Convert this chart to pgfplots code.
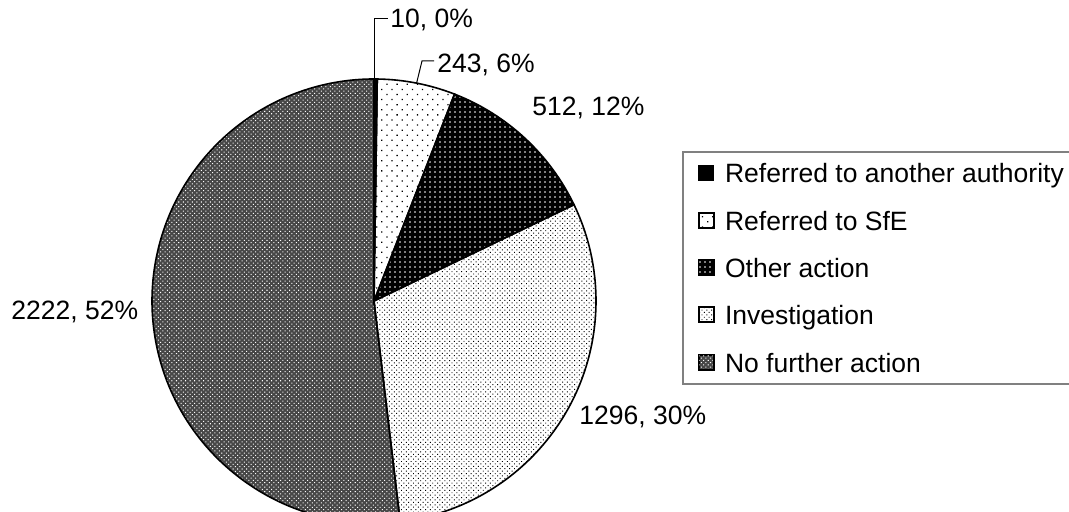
\documentclass[border=0pt]{standalone}
\usepackage{fontspec}
\setmainfont{Liberation Sans}
\usepackage{pgfplots}
\usepackage{pgfplotstable}
\pgfplotsset{compat=1.18}
\usetikzlibrary{patterns.meta}

\pgfplotstableread{
cat value
RA 10
SfE 243
Other 512
Inv 1296
NFA 2222
}\piedata

\tikzset{
  pRA/.style={fill=black},
  pSfE/.style={preaction={fill=white}, pattern={Dots[distance=3.6pt, radius=0.45pt, angle=45]}, pattern color=black},
  pOther/.style={preaction={fill=black}, pattern={Dots[distance=2.5pt, radius=0.42pt]}, pattern color=white},
  pInv/.style={preaction={fill=white}, pattern={Dots[distance=1.7pt, radius=0.34pt, angle=45]}, pattern color=black},
  pNFA/.style={preaction={fill=black!72}, pattern={Dots[distance=1.6pt, radius=0.36pt, angle=45]}, pattern color=white},
  lbl/.style={anchor=base west, inner sep=0pt, font=\fontsize{13.25}{16}\selectfont},
}
\newcommand\slice[3]{\path[#3] (axis cs:374,211) -- ++(#1:111pt) arc[start angle=#1, end angle=#2, radius=111pt] -- cycle;}

\begin{document}
\begin{tikzpicture}
\pgfplotstablegetelem{0}{value}\of\piedata \let\vA\pgfplotsretval
\pgfplotstablegetelem{1}{value}\of\piedata \let\vB\pgfplotsretval
\pgfplotstablegetelem{2}{value}\of\piedata \let\vC\pgfplotsretval
\pgfplotstablegetelem{3}{value}\of\piedata \let\vD\pgfplotsretval
\pgfplotstablegetelem{4}{value}\of\piedata \let\vE\pgfplotsretval
\pgfmathsetmacro\tot{\vA+\vB+\vC+\vD+\vE}
\pgfmathsetmacro\aA{90}
\pgfmathsetmacro\aB{\aA-360*(\vA/\tot)}
\pgfmathsetmacro\aC{\aB-360*(\vB/\tot)}
\pgfmathsetmacro\aD{\aC-360*(\vC/\tot)}
\pgfmathsetmacro\aE{\aD-360*(\vD/\tot)}
\pgfmathsetmacro\aF{-270}
\begin{axis}[
  x=0.5pt, y=0.5pt, xmin=0, xmax=1069, ymin=0, ymax=512,
  hide axis, clip=false,
  legend image code/.code={\path[#1, draw=black, line width=0.5pt] (0pt,-3.5pt) rectangle (7.5pt,4pt);},
  legend cell align=left,
  legend style={at={(0.638,0.248)}, anchor=south west, draw=black!50, line width=1pt, fill=white,
    inner xsep=7.5pt, inner ysep=6pt, row sep=14.15pt, column sep=5.5pt,
    font=\fontsize{13.25}{16}\selectfont,
    nodes={inner sep=0pt, text height=9.5pt, text depth=0pt}},
]
\coordinate (bbA) at (axis cs:0,0);
\coordinate (bbB) at (axis cs:1069,512);
\slice{\aA}{\aB}{pRA}
\slice{\aB}{\aC}{pSfE}
\slice{\aC}{\aD}{pOther}
\slice{\aD}{\aE}{pInv}
\slice{\aE}{\aF}{pNFA}
\slice{\aA}{\aB}{draw=black, line width=0.8pt}
\slice{\aB}{\aC}{draw=black, line width=0.8pt}
\slice{\aC}{\aD}{draw=black, line width=0.8pt}
\slice{\aD}{\aE}{draw=black, line width=0.8pt}
\slice{\aE}{\aF}{draw=black, line width=0.8pt}
% leader lines
\draw[line width=0.5pt] (axis cs:374,433) -- (axis cs:374,493) -- (axis cs:388,493);
\draw[line width=0.5pt] (axis cs:416.6,428.9) -- (axis cs:422,451) -- (axis cs:434,451);
% labels
\node[lbl] at (axis cs:390,484) {10, 0\%};
\node[lbl] at (axis cs:437,439) {243, 6\%};
\node[lbl] at (axis cs:532,396) {512, 12\%};
\node[lbl] at (axis cs:579,87) {1296, 30\%};
\node[lbl] at (axis cs:11,192) {2222, 52\%};
\addlegendimage{pRA}\addlegendentry{Referred to another authority}
\addlegendimage{pSfE}\addlegendentry{Referred to SfE}
\addlegendimage{pOther}\addlegendentry{Other action}
\addlegendimage{pInv}\addlegendentry{Investigation}
\addlegendimage{pNFA}\addlegendentry{No further action}
\end{axis}
\pgfresetboundingbox
\path (bbA) rectangle (bbB);
\end{tikzpicture}
\end{document}
